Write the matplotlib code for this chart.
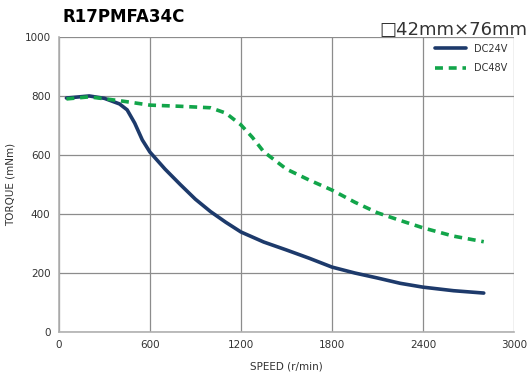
import matplotlib
matplotlib.use('Agg')
import matplotlib.pyplot as plt

# values
speed_24 = [50, 200, 300, 400, 450, 500, 550, 600, 700, 800, 900, 1000, 1100, 1200,
            1350, 1500, 1650, 1800, 1950, 2100, 2250, 2400, 2600, 2800]
torque_24 = [793, 800, 792, 773, 753, 708, 651, 610, 552, 500, 450, 408, 372, 339,
             305, 278, 250, 220, 200, 183, 165, 152, 140, 132]

speed_48 = [50, 200, 400, 600, 800, 1000, 1100, 1200, 1275, 1350, 1500, 1650, 1800,
            1950, 2100, 2250, 2400, 2600, 2800]
torque_48 = [790, 797, 784, 769, 765, 760, 742, 702, 660, 611, 552, 515, 481,
             440, 404, 378, 353, 325, 306]

xticks = [0, 600, 1200, 1800, 2400, 3000]
yticks = [0, 200, 400, 600, 800, 1000]

fig = plt.figure(figsize=(5.3, 3.81), dpi=100)
ax = fig.add_axes([0.111, 0.1286, 0.859, 0.7744])

ax.plot(speed_24, torque_24, color='#1d3a6b', lw=2.6, label='DC24V',
        solid_capstyle='round', solid_joinstyle='round')
ax.plot(speed_48, torque_48, color='#12a54a', lw=2.6, ls=(0, (2.2, 1.6)), label='DC48V')

ax.set_xlim(0, 3000)
ax.set_ylim(0, 1000)
ax.set_xticks(xticks)
ax.set_yticks(yticks)
ax.grid(True, color='#8c8c8c', lw=0.9)
ax.set_axisbelow(True)
ax.tick_params(length=0, labelsize=7.5, colors='#333333', pad=6)
for s in ['top', 'right']:
    ax.spines[s].set_visible(False)
for s in ['left', 'bottom']:
    ax.spines[s].set_color('#b0b0b0')
    ax.spines[s].set_linewidth(1.2)

ax.set_xlabel('SPEED (r/min)', fontsize=7.5, color='#333333', labelpad=8)
ax.set_ylabel('TORQUE (mNm)', fontsize=7.5, color='#333333', labelpad=6)

leg = ax.legend(loc='upper right', frameon=False, fontsize=7, handlelength=3.2,
                labelspacing=1.0, borderaxespad=0.3, bbox_to_anchor=(1.0, 1.0))
for t in leg.get_texts():
    t.set_color('#333333')

fig.text(0.117, 0.955, 'R17PMFA34C', fontsize=12, fontweight='bold', va='center')
fig.text(0.995, 0.92, '\u25a142mm\u00d776mm', fontsize=13, ha='right', va='center',
         color='#333333')

fig.savefig('out.png', dpi=100)
